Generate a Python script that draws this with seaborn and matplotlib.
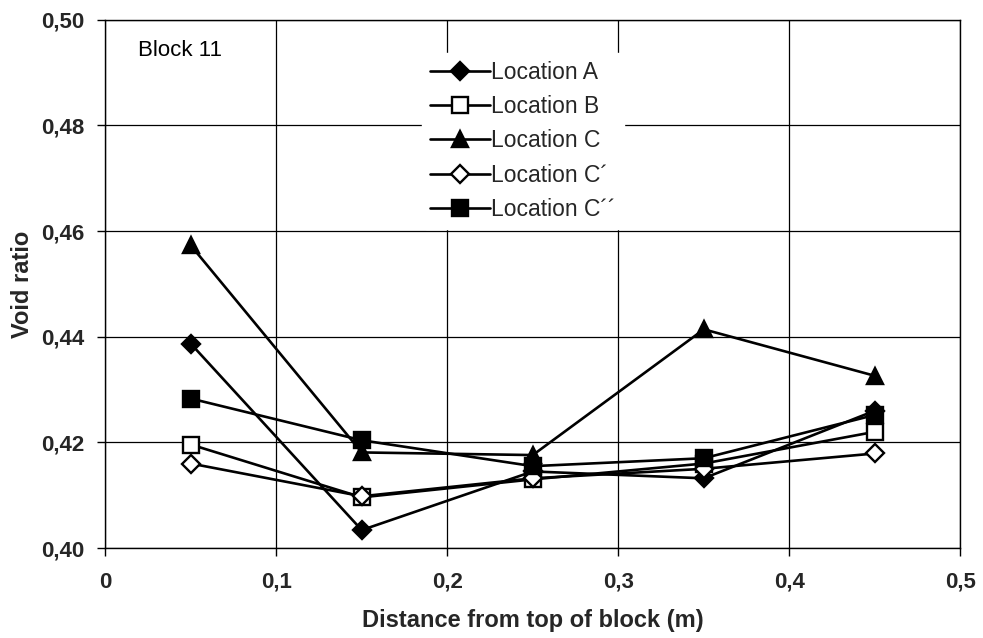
import matplotlib
matplotlib.use("Agg")
import matplotlib.pyplot as plt
import seaborn as sns
import pandas as pd
from matplotlib.lines import Line2D

# Void ratio measured at five depths in block 11
depth = [0.05, 0.15, 0.25, 0.35, 0.45]
loc_a = [0.4387, 0.4034, 0.4145, 0.4132, 0.4260]
loc_b = [0.4196, 0.4096, 0.4130, 0.4160, 0.4220]
loc_c = [0.4573, 0.4181, 0.4176, 0.4414, 0.4326]
loc_c1 = [0.4160, 0.4098, 0.4132, 0.4150, 0.4179]
loc_c2 = [0.4283, 0.4204, 0.4155, 0.4170, 0.4252]

series_names = ["Location A", "Location B", "Location C", "Location C\u00b4", "Location C\u00b4\u00b4"]
x_ticks = [0, 0.1, 0.2, 0.3, 0.4, 0.5]
x_tick_labels = ["0", "0,1", "0,2", "0,3", "0,4", "0,5"]
y_ticks = [0.40, 0.42, 0.44, 0.46, 0.48, 0.50]
y_tick_labels = ["0,40", "0,42", "0,44", "0,46", "0,48", "0,50"]

sns.set_theme(style="white")
plt.rcParams["font.family"] = ["Liberation Sans", "DejaVu Sans"]

fig = plt.figure(figsize=(9.83, 6.38), dpi=100)
ax = fig.add_axes([0.107, 0.141, 0.870, 0.828])

styles = [
    dict(marker="D", mfc="black", ms=9.5),
    dict(marker="s", mfc="white", ms=11),
    dict(marker="^", mfc="black", ms=12),
    dict(marker="D", mfc="white", ms=9),
    dict(marker="s", mfc="black", ms=11.5),
]
values = [loc_a, loc_b, loc_c, loc_c1, loc_c2]

handles = []
for name, vals, st in zip(series_names, values, styles):
    df = pd.DataFrame({"depth": depth, "void": vals})
    sns.lineplot(data=df, x="depth", y="void", ax=ax, color="black", lw=1.9,
                 marker=st["marker"], markersize=st["ms"],
                 markerfacecolor=st["mfc"], markeredgecolor="black",
                 markeredgewidth=1.7, zorder=3)
    handles.append(Line2D([], [], color="black", lw=1.9, marker=st["marker"],
                          markersize=st["ms"], markerfacecolor=st["mfc"],
                          markeredgecolor="black", markeredgewidth=1.7))

ax.set_xlim(0, 0.5)
ax.set_ylim(0.40, 0.50)
ax.set_xticks(x_ticks)
ax.set_xticklabels(x_tick_labels, fontsize=16, fontweight="bold")
ax.set_yticks(y_ticks)
ax.set_yticklabels(y_tick_labels, fontsize=16, fontweight="bold")
ax.tick_params(axis="x", direction="out", length=6, width=1, color="black",
               bottom=True, pad=11)
ax.tick_params(axis="y", direction="out", length=6, width=1, color="black",
               left=True, pad=9)
ax.grid(True, color="black", lw=0.9)
ax.set_axisbelow(True)
for sp in ax.spines.values():
    sp.set_color("black")
    sp.set_linewidth(1.0)

ax.set_xlabel("Distance from top of block (m)", fontsize=17, fontweight="bold")
ax.set_ylabel("Void ratio", fontsize=17, fontweight="bold")
ax.xaxis.set_label_coords(0.5, -0.137)
ax.yaxis.set_label_coords(-0.097, 0.5)
ax.xaxis.label.set_va("center")
ax.yaxis.label.set_va("center")

ax.text(0.019, 0.4942, "Block 11", fontsize=16, ha="left", va="center", color="black")

leg = ax.legend(handles, series_names, loc="upper left", bbox_to_anchor=(0.371, 0.938),
                frameon=True, fontsize=16.5, handlelength=2.6, handletextpad=0.05,
                labelspacing=0.5, borderpad=0.35, borderaxespad=0)
leg.get_frame().set_edgecolor("white")
leg.get_frame().set_facecolor("white")
leg.get_frame().set_alpha(1)
leg.set_zorder(5)

fig.savefig("out.png", dpi=100, facecolor="white")
